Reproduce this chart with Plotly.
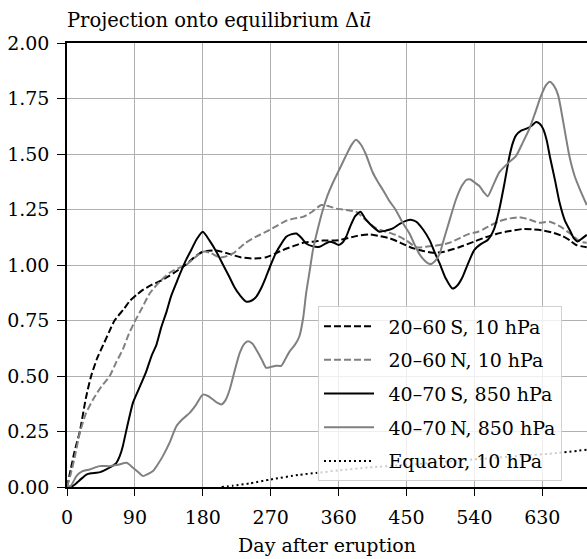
import plotly.graph_objects as go

# ---- data ----
s_days = [0, 5, 10, 17, 25, 32, 40, 48, 56, 63, 75, 83, 92, 101, 112, 123, 135, 145, 157, 167, 180,
          198, 215, 230, 242, 254, 264, 275, 286, 300, 313, 326, 339, 360, 383, 401, 415, 428, 442,
          455, 470, 485, 500, 520, 540, 555, 569, 585, 604, 618, 630, 645, 657, 667, 675, 689]
s_vals = [0.0, 0.08, 0.16, 0.25, 0.40, 0.50, 0.58, 0.64, 0.70, 0.75, 0.80, 0.837, 0.865, 0.889, 0.91,
          0.927, 0.95, 0.972, 1.0, 1.03, 1.06, 1.065, 1.05, 1.035, 1.03, 1.03, 1.035, 1.05, 1.067,
          1.085, 1.10, 1.105, 1.11, 1.112, 1.13, 1.138, 1.13, 1.12, 1.10, 1.08, 1.065, 1.055, 1.06,
          1.08, 1.106, 1.125, 1.14, 1.152, 1.162, 1.16, 1.156, 1.145, 1.13, 1.11, 1.09, 1.08]

n_days = [0, 5, 10, 17, 25, 34.5, 45, 56.6, 65, 74, 82, 90, 100, 110, 123, 136, 147, 158, 170, 180,
          190, 202, 212, 220, 228, 237, 252, 268, 280, 291, 302, 313, 325, 337, 347, 357, 370, 383,
          397, 410, 423, 436, 450, 463, 478, 494, 507, 520, 533, 545, 555, 573, 587, 600, 613, 626,
          640, 653, 666, 680, 689]
n_vals = [0.0, 0.06, 0.13, 0.244, 0.33, 0.394, 0.45, 0.50, 0.56, 0.62, 0.69, 0.746, 0.81, 0.874, 0.925,
          0.965, 0.985, 1.0, 1.035, 1.06, 1.055, 1.034, 1.04, 1.052, 1.075, 1.10, 1.13, 1.157, 1.18,
          1.20, 1.21, 1.217, 1.24, 1.27, 1.265, 1.254, 1.248, 1.24, 1.20, 1.165, 1.15, 1.135, 1.11,
          1.08, 1.083, 1.09, 1.10, 1.12, 1.14, 1.15, 1.167, 1.197, 1.21, 1.215, 1.205, 1.19, 1.195,
          1.175, 1.144, 1.106, 1.10]

st_days = [0, 5, 10, 15, 20, 25.7, 32, 39, 45, 52, 58, 65.5, 70, 74, 78, 83, 87.5, 95, 105, 112, 118.5,
           125, 132, 138, 145, 151, 158, 165, 171.5, 180, 189, 198, 207, 215, 222, 229, 237.5, 245,
           251, 258, 264, 270, 277, 284, 290.6, 297, 304, 310, 317, 325, 335, 342, 348, 354, 360, 365,
           370, 375, 382, 389, 395, 401, 408, 414, 423, 432, 441, 450, 457, 463, 472, 481, 487, 494,
           502, 511, 518, 524.5, 532, 540, 549, 558, 566, 573, 580, 586.5, 591, 595, 602, 609, 615,
           622, 627, 631, 636, 640, 647, 653, 660, 666, 672, 677, 683, 689]
st_vals = [0.0, 0.0, 0.01, 0.025, 0.04, 0.056, 0.062, 0.064, 0.068, 0.079, 0.09, 0.109, 0.14, 0.184,
           0.245, 0.32, 0.38, 0.44, 0.52, 0.59, 0.64, 0.72, 0.79, 0.86, 0.92, 0.97, 1.024, 1.07, 1.114,
           1.15, 1.11, 1.06, 1.0, 0.948, 0.90, 0.865, 0.835, 0.84, 0.858, 0.90, 0.948, 1.0, 1.055,
           1.095, 1.127, 1.138, 1.142, 1.125, 1.097, 1.085, 1.082, 1.095, 1.105, 1.10, 1.09, 1.10,
           1.127, 1.17, 1.22, 1.24, 1.21, 1.187, 1.165, 1.15, 1.155, 1.165, 1.185, 1.20, 1.203, 1.195,
           1.16, 1.11, 1.06, 1.007, 0.94, 0.894, 0.91, 0.947, 1.01, 1.068, 1.095, 1.114, 1.16, 1.25,
           1.37, 1.49, 1.55, 1.583, 1.605, 1.614, 1.625, 1.644, 1.635, 1.614, 1.56, 1.49, 1.38, 1.28,
           1.20, 1.16, 1.12, 1.106, 1.12, 1.136]

nt_days = [0, 5, 12.5, 20, 30, 43, 56, 68, 79, 87.5, 95, 100.8, 107, 114, 120, 127, 136, 145, 153,
           162.6, 171, 180, 187, 193.5, 199, 204.7, 210, 215.7, 222, 229, 235, 240, 246, 251, 258, 264,
           270, 277, 284, 290, 295, 302, 308, 313, 317, 322, 326, 333, 339, 345, 352, 361, 370, 377,
           383, 389, 396, 405, 412, 419, 427, 436, 445, 454, 461, 467, 474, 481, 487, 494, 498, 507,
           515.6, 524, 530, 535, 541, 546.6, 552, 557.7, 565, 573, 585, 595, 604, 613, 621, 628.7, 635,
           640, 645, 651, 658, 666, 673, 680, 689]
nt_vals = [0.0, 0.005, 0.049, 0.07, 0.079, 0.094, 0.094, 0.10, 0.109, 0.087, 0.065, 0.049, 0.058, 0.072,
           0.10, 0.139, 0.20, 0.274, 0.305, 0.334, 0.37, 0.416, 0.41, 0.394, 0.38, 0.372, 0.39, 0.439,
           0.52, 0.604, 0.645, 0.657, 0.645, 0.618, 0.575, 0.537, 0.54, 0.546, 0.546, 0.58, 0.61, 0.64,
           0.678, 0.76, 0.873, 0.98, 1.067, 1.17, 1.247, 1.31, 1.367, 1.43, 1.494, 1.54, 1.564, 1.545,
           1.50, 1.419, 1.375, 1.337, 1.29, 1.247, 1.19, 1.142, 1.09, 1.05, 1.02, 1.004, 1.015, 1.05,
           1.098, 1.20, 1.295, 1.36, 1.385, 1.385, 1.37, 1.356, 1.33, 1.31, 1.36, 1.417, 1.46, 1.49,
           1.55, 1.614, 1.69, 1.765, 1.81, 1.826, 1.81, 1.765, 1.64, 1.49, 1.40, 1.34, 1.27]

eq_days = [205, 220, 242, 270, 308, 330, 360, 400, 450, 500, 550, 600, 650, 689]
eq_vals = [0.0, 0.006, 0.016, 0.034, 0.055, 0.063, 0.075, 0.088, 0.10, 0.113, 0.127, 0.14, 0.153, 0.168]

x_ticks = [0, 90, 180, 270, 360, 450, 540, 630]
y_ticks = [0.0, 0.25, 0.5, 0.75, 1.0, 1.25, 1.5, 1.75, 2.0]
y_ticklabels = ["0.00", "0.25", "0.50", "0.75", "1.00", "1.25", "1.50", "1.75", "2.00"]

series = [
    ("20–60\u2009S, 10 hPa", s_days, s_vals, "black", "7px,3px"),
    ("20–60\u2009N, 10 hPa", n_days, n_vals, "#808080", "7px,3px"),
    ("40–70\u2009S, 850 hPa", st_days, st_vals, "black", "solid"),
    ("40–70\u2009N, 850 hPa", nt_days, nt_vals, "#808080", "solid"),
    ("Equator, 10 hPa", eq_days, eq_vals, "black", "2px,3px"),
]

FONT = "DejaVu Serif"
fig = go.Figure()
for i, (name, xs, ys, col, dash) in enumerate(series):
    fig.add_trace(go.Scatter(
        x=xs, y=ys, name="\u2002" + name, mode="lines", legendgroup=f"g{i}",
        line=dict(color=col, width=2, dash=dash, shape="spline", smoothing=0.6),
    ))

W, H = 587, 559
fig.update_layout(
    width=W, height=H,
    margin=dict(l=67, r=0, t=43, b=72),
    paper_bgcolor="white", plot_bgcolor="white",
    font=dict(family=FONT, size=19, color="black"),
    title=dict(text="Projection onto equilibrium Δ<i>ū</i>", x=67 / W, xref="container",
               xanchor="left", y=1 - 20 / H, yref="container", yanchor="middle",
               font=dict(family=FONT, size=19.5, color="black")),
    legend=dict(x=(318 - 67) / 520, y=(487.5 - 306.7) / 444.2, xanchor="left", yanchor="top",
                bgcolor="rgba(255,255,255,0.8)", bordercolor="#d0d0d0", borderwidth=1,
                font=dict(family=FONT, size=19, color="black"),
                tracegroupgap=6, itemwidth=50),
    showlegend=True,
)
fig.update_xaxes(
    range=[0, 689.3], tickvals=x_ticks, ticktext=[str(t) for t in x_ticks],
    showgrid=True, gridcolor="#b0b0b0", gridwidth=1.3,
    showline=True, linecolor="black", linewidth=1.5, mirror=True,
    ticks="outside", ticklen=7, tickwidth=1.3, tickcolor="black",
    ticklabelstandoff=5,
    zeroline=False,
    title=dict(text="Day after eruption", standoff=12, font=dict(family=FONT, size=19)),
)
fig.update_yaxes(
    range=[0, 2.0], tickvals=y_ticks, ticktext=y_ticklabels,
    showgrid=True, gridcolor="#b0b0b0", gridwidth=1.3,
    showline=True, linecolor="black", linewidth=1.5, mirror=False,
    ticks="outside", ticklen=8, tickwidth=1.3, tickcolor="black",
    ticklabelstandoff=4,
    zeroline=False,
)
fig.write_html("out.html")
